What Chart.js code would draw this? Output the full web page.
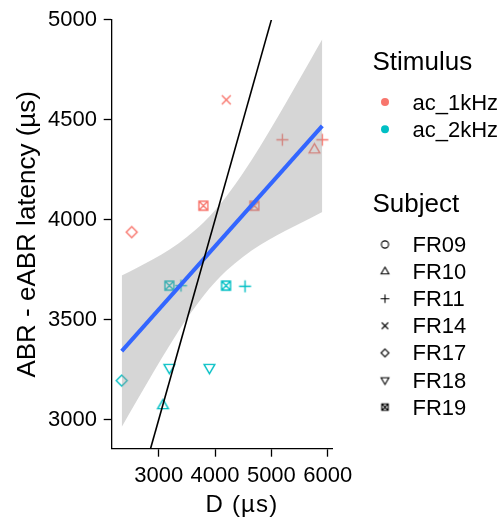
<!DOCTYPE html>
<html>
<head>
<meta charset="utf-8">
<script src="https://cdn.jsdelivr.net/npm/chart.js@4.4.1/dist/chart.umd.min.js"></script>
<style>
html,body{margin:0;padding:0;background:#ffffff;}
canvas{display:block;}
</style>
</head>
<body>
<canvas id="c" width="503" height="517"></canvas>
<script>
// ---------------- data ----------------
const stimulusLevels = ['ac_1kHz', 'ac_2kHz'];
const subjectLevels = ['FR09', 'FR10', 'FR11', 'FR14', 'FR17', 'FR18', 'FR19'];
const xTicks = [3000, 4000, 5000, 6000];
const yTicks = [3000, 3500, 4000, 4500, 5000];
const xTitle = 'D (µs)';
const yTitle = 'ABR - eABR latency (µs)';

const pointStimulus = ['ac_1kHz','ac_1kHz','ac_1kHz','ac_1kHz','ac_1kHz','ac_1kHz','ac_1kHz',
                       'ac_2kHz','ac_2kHz','ac_2kHz','ac_2kHz','ac_2kHz','ac_2kHz','ac_2kHz','ac_2kHz'];
const pointSubject  = ['FR14','FR11','FR11','FR10','FR19','FR19','FR17',
                       'FR19','FR11','FR19','FR11','FR18','FR18','FR17','FR10'];
const pointD        = [4200, 5195, 5904, 5764, 3792, 4698, 2520,
                       3188, 3395, 4195, 4533, 3188, 3900, 2343, 3075];
const pointLatency  = [4600, 4400, 4400, 4350, 4070, 4070, 3938,
                       3670, 3670, 3670, 3667, 3260, 3260, 3195, 3070];

// linear fit line and its confidence band
const fitD = [2343, 5904];
const fitLatency = [3342, 4470];
const bandD    = [2343, 2600, 2900, 3200, 3500, 3800, 4000, 4200, 4500, 4800, 5100, 5400, 5700, 5904];
const bandLow  = [2963, 3089, 3234, 3374, 3505, 3621, 3687, 3744, 3815, 3873, 3922, 3966, 4008, 4038];
const bandHigh = [3721, 3757, 3802, 3852, 3913, 3987, 4047, 4116, 4235, 4367, 4508, 4654, 4802, 4903];

// identity line y = x
const identityD = [2854, 5000];
const identityLatency = [2854, 5000];

// ---------------- styles ----------------
const FONT = '"Liberation Sans", Arial, Helvetica, sans-serif';
const stimulusColors = {'ac_1kHz': '#F8766D', 'ac_2kHz': '#00BFC4'};
const subjectShapes = {FR09:'circle', FR10:'triangle', FR11:'plus', FR14:'cross',
                       FR17:'diamond', FR18:'triangleDown', FR19:'squareCross'};

function makeSymbol(shape, color, r, lw) {
  const s = Math.ceil(2 * r + 2 * lw + 4) + 1;
  const c = document.createElement('canvas');
  c.width = s; c.height = s;
  const g = c.getContext('2d');
  g.translate(s / 2, s / 2);
  g.strokeStyle = color;
  g.lineWidth = lw;
  g.lineJoin = 'miter';
  g.beginPath();
  let a;
  switch (shape) {
    case 'circle': g.arc(0, 0, r * 0.8, 0, 2 * Math.PI); break;
    case 'triangle':
      g.moveTo(0, -r); g.lineTo(r * 0.866, r * 0.5); g.lineTo(-r * 0.866, r * 0.5); g.closePath(); break;
    case 'triangleDown':
      g.moveTo(0, r); g.lineTo(r * 0.866, -r * 0.5); g.lineTo(-r * 0.866, -r * 0.5); g.closePath(); break;
    case 'plus':
      a = r * 0.97;
      g.moveTo(-a, 0); g.lineTo(a, 0); g.moveTo(0, -a); g.lineTo(0, a); break;
    case 'cross':
      a = r * 0.72;
      g.moveTo(-a, -a); g.lineTo(a, a); g.moveTo(a, -a); g.lineTo(-a, a); break;
    case 'diamond':
      a = r * 0.88;
      g.moveTo(0, -a); g.lineTo(a, 0); g.lineTo(0, a); g.lineTo(-a, 0); g.closePath(); break;
    case 'squareCross':
      a = r * 0.72;
      g.rect(-a, -a, 2 * a, 2 * a);
      g.moveTo(-a, -a); g.lineTo(a, a); g.moveTo(a, -a); g.lineTo(-a, a); break;
  }
  g.stroke();
  return c;
}

const pointDatasets = stimulusLevels.map((stim, k) => {
  const idx = pointStimulus.map((s, i) => s === stim ? i : -1).filter(i => i >= 0);
  return {
    label: stim,
    data: idx.map(i => ({x: pointD[i], y: pointLatency[i]})),
    pointStyle: idx.map(i => makeSymbol(subjectShapes[pointSubject[i]], stimulusColors[stim], 6.2, 1.4)),
    pointRadius: 6,
    pointHoverRadius: 6,
    showLine: false,
    order: 10 + k
  };
});

const datasets = [
  {
    label: 'identity',
    data: identityD.map((x, i) => ({x: x, y: identityLatency[i]})),
    showLine: true, borderColor: '#000000', borderWidth: 1.6,
    pointRadius: 0, fill: false, order: 0
  },
  {
    label: 'fit',
    data: fitD.map((x, i) => ({x: x, y: fitLatency[i]})),
    showLine: true, borderColor: '#3366FF', borderWidth: 4,
    pointRadius: 0, fill: false, order: 1
  },
  {
    label: 'bandLow',
    data: bandD.map((x, i) => ({x: x, y: bandLow[i]})),
    showLine: true, borderColor: 'rgba(0,0,0,0)', borderWidth: 0,
    pointRadius: 0, fill: false, order: 2, cubicInterpolationMode: 'monotone'
  },
  {
    label: 'bandHigh',
    data: bandD.map((x, i) => ({x: x, y: bandHigh[i]})),
    showLine: true, borderColor: 'rgba(0,0,0,0)', borderWidth: 0,
    pointRadius: 0, fill: '-1', backgroundColor: 'rgba(153,153,153,0.4)',
    order: 2, cubicInterpolationMode: 'monotone'
  },
  ...pointDatasets
];

// ---------------- legend + x title (ggplot style) ----------------
const legendPlugin = {
  id: 'ggLegend',
  afterDraw(chart) {
    const ctx = chart.ctx;
    ctx.save();
    ctx.textBaseline = 'middle';
    ctx.textAlign = 'left';
    ctx.fillStyle = '#000';

    // x axis title
    ctx.save();
    ctx.font = '24px ' + FONT;
    try { ctx.letterSpacing = '1.2px'; } catch (e) {}
    ctx.textAlign = 'center';
    ctx.fillText(xTitle, 242, 505);
    ctx.restore();

    ctx.font = '26px ' + FONT;
    ctx.fillText('Stimulus', 372.5, 62.5);
    stimulusLevels.forEach((s, i) => {
      const y = 102 + i * 27.3;
      ctx.beginPath();
      ctx.arc(385, y, 4, 0, 2 * Math.PI);
      ctx.fillStyle = stimulusColors[s];
      ctx.fill();
      ctx.fillStyle = '#000';
      ctx.font = '22px ' + FONT;
      ctx.fillText(s, 412.5, y + 1.5);
    });
    ctx.font = '26px ' + FONT;
    ctx.fillText('Subject', 372.5, 205);
    subjectLevels.forEach((s, i) => {
      const y = 244.5 + i * 27.1;
      const sym = makeSymbol(subjectShapes[s], '#000', 4.5, 1.1);
      ctx.drawImage(sym, 385 - sym.width / 2, y - sym.height / 2);
      ctx.fillStyle = '#000';
      ctx.font = '22px ' + FONT;
      ctx.fillText(s, 412.5, y + 1.5);
    });
    ctx.restore();
  }
};

new Chart(document.getElementById('c'), {
  type: 'scatter',
  data: { datasets: datasets },
  plugins: [legendPlugin],
  options: {
    responsive: false,
    animation: false,
    events: [],
    layout: { padding: { left: 0, top: 19.5, right: 170.7, bottom: 0 } },
    plugins: {
      legend: { display: false },
      tooltip: { enabled: false },
      filler: { propagate: false }
    },
    scales: {
      x: {
        type: 'linear',
        min: 2165, max: 6082,
        afterBuildTicks: s => { s.ticks = xTicks.map(v => ({value: v})); },
        afterFit: s => { s.height = 68.3; },
        grid: { display: true, drawOnChartArea: false, drawTicks: true, tickLength: 8, tickWidth: 1.3, tickColor: '#000' },
        border: { display: true, color: '#000', width: 1.3 },
        ticks: { color: '#000', font: { family: FONT, size: 22 }, padding: 5.6, maxRotation: 0, autoSkip: false,
                 callback: v => String(v) },
        title: { display: false }
      },
      y: {
        type: 'linear',
        min: 2854, max: 5000,
        afterBuildTicks: s => { s.ticks = yTicks.map(v => ({value: v})); },
        afterFit: s => { s.width = 111.7; },
        grid: { display: true, drawOnChartArea: false, drawTicks: true, tickLength: 8, tickWidth: 1.3, tickColor: '#000' },
        border: { display: true, color: '#000', width: 1.3 },
        ticks: { color: '#000', font: { family: FONT, size: 22 }, padding: 6.7, autoSkip: false,
                 callback: v => String(v) },
        title: { display: true, text: yTitle, color: '#000', font: { family: FONT, size: 26 }, padding: { top: 11.8, bottom: 0 } }
      }
    }
  }
});
</script>
</body>
</html>
